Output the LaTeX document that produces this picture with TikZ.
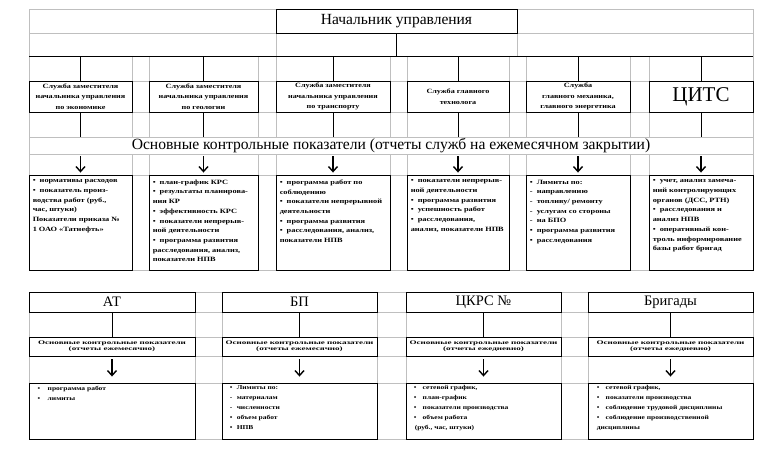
\documentclass[tikz,border=0pt]{standalone}
\usepackage{fontspec}
\setmainfont{Liberation Serif}
\newfontfamily\wideA[FakeStretch=1.28]{Liberation Serif}
\newfontfamily\wideB[FakeStretch=1.65]{Liberation Serif}
\newfontfamily\wideC[FakeStretch=1.25]{Liberation Serif}
\usetikzlibrary{arrows.meta}
\newcommand\fServ{\wideC\bfseries\fontsize{6.5}{10.5}\selectfont}
\newcommand\fIndic{\wideA\bfseries\fontsize{6.5}{9.7}\selectfont}
\newcommand\fKey{\wideB\bfseries\fontsize{5.5}{6.5}\selectfont}
\newcommand\fBot{\wideC\bfseries\fontsize{6}{10}\selectfont}
\newcommand\bul{\makebox[7pt][l]{•}}
\newcommand\dsh{\makebox[7pt][l]{-}}
\newcommand\bulw{\makebox[10pt][l]{•}}
\begin{document}
\begin{tikzpicture}[x=1pt,y=-1pt,
  grid/.style={draw=black!25,line width=0.5pt},
  frame/.style={draw=black,line width=0.9pt,inner sep=0pt,rectangle},
  conn/.style={draw=black,line width=0.8pt},
  arr/.style={draw=black,line width=1.4pt,-{Straight Barb[length=5pt,width=9pt]}},
  inner/.style={anchor=north west,inner sep=0pt,align=left}]
\useasboundingbox (0,0) rectangle (774,455);
\fill[white] (0,0) rectangle (774,455);
% ---- upper grid
\foreach \yy in {9,33,81,112,137,154,175,270} \draw[grid] (29,\yy) -- (753,\yy);
\draw[grid] (29,9) -- (29,270);
\draw[grid] (753,9) -- (753,270);
\draw[grid] (276,9) -- (276,56);
\draw[grid] (517,9) -- (517,56);
\foreach \xx in {132,149,258,276,390,407,509,526,630,649} {
  \draw[grid] (\xx,56) -- (\xx,137);
  \draw[grid] (\xx,154) -- (\xx,270);
}
% ---- lower grid
\foreach \yy in {292,312,337,356,383,439} \draw[grid] (29,\yy) -- (753,\yy);
\foreach \xx in {29,195,222,377,406,561,588,753} \draw[grid] (\xx,292) -- (\xx,439);

% ---- head
\node[frame,minimum width=241pt,minimum height=24pt,font=\fontsize{15.5}{18}\selectfont] (h) at (396.5,21) {Начальник управления};
\coordinate (busL) at (29,56);
\coordinate (busR) at (753,56);
\coordinate (bandtop) at (0,137);
\coordinate (arrtop) at (0,156);
\draw[conn] (busL) -- (busR);
\draw[conn] (h.south) -- (h.south |- busL);

% ---- service boxes
\node[frame,minimum width=103pt,minimum height=31pt,align=center,font=\fServ] (s1) at (80.5,96.5) {Служба заместителя\\начальника управления\\по экономике};
\node[frame,minimum width=109pt,minimum height=31pt,align=center,font=\fServ] (s2) at (203.5,96.5) {Служба заместителя\\начальника управления\\по геологии};
\node[frame,minimum width=114pt,minimum height=31pt,align=center,font=\fServ] (s3) at (333,96.5) {Служба заместителя\\начальника управления\\по транспорту};
\node[frame,minimum width=102pt,minimum height=31pt,align=center,font=\fServ] (s4) at (458,96.5) {Служба главного\\технолога};
\node[frame,minimum width=104pt,minimum height=31pt,align=center,font=\fServ] (s5) at (578,96.5) {Служба\\главного механика,\\главного энергетика};
\node[frame,minimum width=104pt,minimum height=31pt,font=\fontsize{21}{24}\selectfont] (s6) at (701,96.5) {ЦИТС};

\node[font=\fontsize{15.6}{18}\selectfont,inner sep=0pt] (band) at (391,146) {Основные контрольные показатели (отчеты служб на ежемесячном закрытии)};

% ---- indicator boxes
\node[frame,minimum width=103pt,minimum height=95pt] (i1) at (80.5,222.5) {};
\node[frame,minimum width=109pt,minimum height=95pt] (i2) at (203.5,222.5) {};
\node[frame,minimum width=114pt,minimum height=95pt] (i3) at (333,222.5) {};
\node[frame,minimum width=102pt,minimum height=95pt] (i4) at (458,222.5) {};
\node[frame,minimum width=104pt,minimum height=95pt] (i5) at (578,222.5) {};
\node[frame,minimum width=104pt,minimum height=95pt] (i6) at (701,222.5) {};

\foreach \i in {1,...,6} {
  \draw[conn] (s\i.north |- busL) -- (s\i.north);
  \draw[conn] (s\i.south) -- (s\i.south |- bandtop);
  \draw[arr,shorten >=2pt] (i\i.north |- arrtop) -- (i\i.north);
}

\node[inner,font=\fIndic] (t1) at ([xshift=4pt,yshift=-5pt]i1.north west) {\bul нормативы расходов\\\bul показатель произ-\\водства работ (руб.,\\час, штуки)\\Показатели приказа №\\1 ОАО «Татнефть»};
\node[inner,font=\fIndic] (t2) at ([xshift=4pt,yshift=-5pt]i2.north west) {\bul план-график КРС\\\bul результаты планирова-\\ния КР\\\bul эффективность КРС\\\bul показатели непрерыв-\\ной деятельности\\\bul программа развития\\расследования, анализ,\\показатели НПВ};
\node[inner,font=\fIndic] (t3) at ([xshift=4pt,yshift=-5pt]i3.north west) {\bul программа работ по\\соблюдению\\\bul показатели непрерывной\\деятельности\\\bul программа развития\\\bul расследования, анализ,\\показатели НПВ};
\node[inner,font=\fIndic] (t4) at ([xshift=4pt,yshift=-5pt]i4.north west) {\bul показатели непрерыв-\\ной деятельности\\\bul программа развития\\\bul успешность работ\\\bul расследования,\\анализ, показатели НПВ};
\node[inner,font=\fIndic] (t5) at ([xshift=4pt,yshift=-5pt]i5.north west) {\bul Лимиты по:\\\dsh направлению\\\dsh топливу/ ремонту\\\dsh услугам со стороны\\\dsh на БПО\\\bul программа развития\\\bul расследования};
\node[inner,font=\fIndic] (t6) at ([xshift=4pt,yshift=-5pt]i6.north west) {\bul учет, анализ замеча-\\ний контролирующих\\органов (ДСС, РТН)\\\bul расследования и\\анализ НПВ\\\bul оперативный кон-\\троль информирование\\базы работ бригад};

% ---- lower section
\node[frame,minimum width=166pt,minimum height=20pt,font=\fontsize{14.5}{16}\selectfont] (b1) at (112,302) {АТ};
\node[frame,minimum width=155pt,minimum height=20pt,font=\fontsize{14.5}{16}\selectfont] (b2) at (299.5,302) {БП};
\node[frame,minimum width=155pt,minimum height=20pt,font=\fontsize{14.5}{16}\selectfont] (b3) at (483.5,302) {ЦКРС №};
\node[frame,minimum width=165pt,minimum height=20pt,font=\fontsize{14.5}{16}\selectfont] (b4) at (670.5,302) {Бригады};

\node[frame,minimum width=166pt,minimum height=19pt,align=center,font=\fKey] (k1) at (112,346.5) {Основные контрольные показатели\\(отчеты ежемесячно)};
\node[frame,minimum width=155pt,minimum height=19pt,align=center,font=\fKey] (k2) at (299.5,346.5) {Основные контрольные показатели\\(отчеты ежемесячно)};
\node[frame,minimum width=155pt,minimum height=19pt,align=center,font=\fKey] (k3) at (483.5,346.5) {Основные контрольные показатели\\(отчеты ежедневно)};
\node[frame,minimum width=165pt,minimum height=19pt,align=center,font=\fKey] (k4) at (670.5,346.5) {Основные контрольные показатели\\(отчеты ежедневно)};

\node[frame,minimum width=166pt,minimum height=56pt] (c1) at (112,411) {};
\node[frame,minimum width=155pt,minimum height=56pt] (c2) at (299.5,411) {};
\node[frame,minimum width=155pt,minimum height=56pt] (c3) at (483.5,411) {};
\node[frame,minimum width=165pt,minimum height=56pt] (c4) at (670.5,411) {};

\coordinate (barr) at (0,359);
\foreach \i in {1,...,4} {
  \draw[conn] (b\i.south) -- (k\i.north);
  \draw[arr,shorten >=6pt] (k\i.south |- barr) -- (c\i.north);
}

\node[inner,font=\fBot] (u1) at ([xshift=9pt,yshift=-3pt]c1.north west) {\bulw программа работ\\\bulw лимиты};
\node[inner,font=\fBot] (u2) at ([xshift=8pt,yshift=-3pt]c2.north west) {\bul Лимиты по:\\\dsh материалам\\\dsh численности\\\bul объем работ\\\bul НПВ};
\node[inner,font=\fBot] (u3) at ([xshift=8pt,yshift=-3pt]c3.north west) {\makebox[9pt][l]{•}сетевой график,\\\makebox[9pt][l]{•}план-график\\\makebox[9pt][l]{•}показатели производства\\\makebox[9pt][l]{•}объем работа\\\,(руб., час, штуки)};
\node[inner,font=\fBot] (u4) at ([xshift=9pt,yshift=-3pt]c4.north west) {\makebox[9pt][l]{•}сетевой график,\\\makebox[9pt][l]{•}показатели производства\\\makebox[9pt][l]{•}соблюдение трудовой дисциплины\\\makebox[9pt][l]{•}соблюдение производственной\\дисциплины};
\end{tikzpicture}
\end{document}
